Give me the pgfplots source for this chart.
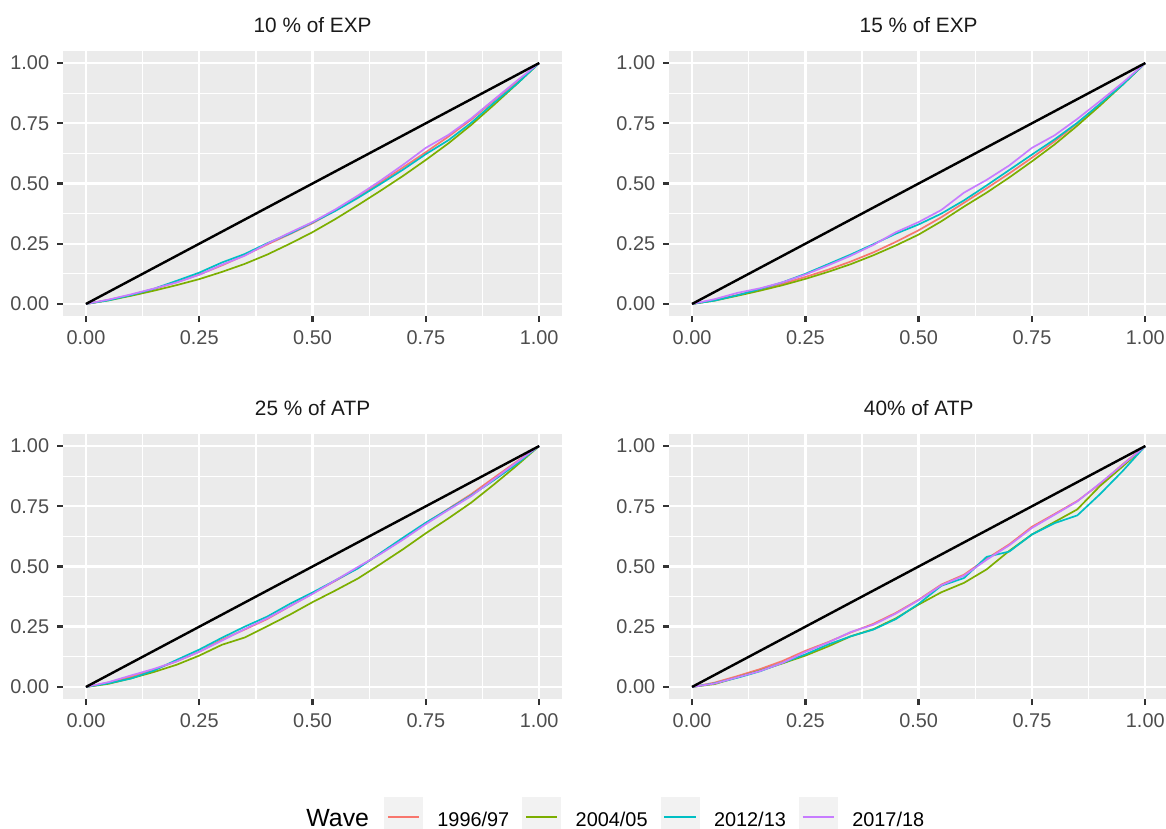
\documentclass[border=0pt]{standalone}
\usepackage{fontspec}
\setmainfont{Liberation Sans}
\usepackage{pgfplots}
\usepackage{pgfplotstable}
\pgfplotsset{compat=1.18}
\definecolor{panelbg}{HTML}{EBEBEB}
\definecolor{keybg}{HTML}{F2F2F2}
\definecolor{gtick}{HTML}{333333}
\definecolor{glabel}{HTML}{4D4D4D}
\definecolor{gtitle}{HTML}{1A1A1A}
\definecolor{c1}{HTML}{F8766D}
\definecolor{c2}{HTML}{7CAE00}
\definecolor{c3}{HTML}{00BFC4}
\definecolor{c4}{HTML}{C77CFF}

\pgfplotstableread{
x    r      g      c      p
0    0      0      0      0
0.05 0.017  0.015  0.015  0.018
0.10 0.038  0.034  0.037  0.040
0.15 0.062  0.055  0.063  0.064
0.20 0.090  0.078  0.096  0.089
0.25 0.122  0.103  0.130  0.121
0.30 0.160  0.133  0.172  0.163
0.35 0.202  0.166  0.207  0.200
0.40 0.247  0.205  0.252  0.250
0.45 0.290  0.250  0.292  0.296
0.50 0.335  0.298  0.338  0.340
0.55 0.388  0.352  0.386  0.392
0.60 0.446  0.410  0.440  0.450
0.65 0.505  0.470  0.498  0.512
0.70 0.567  0.532  0.558  0.578
0.75 0.630  0.598  0.622  0.648
0.80 0.695  0.667  0.680  0.702
0.85 0.765  0.743  0.752  0.770
0.90 0.845  0.826  0.835  0.848
0.95 0.920  0.912  0.912  0.925
1    1      1      1      1
}\tA

\pgfplotstableread{
x    r      g      c      p
0    0      0      0      0
0.05 0.016  0.014  0.014  0.020
0.10 0.037  0.034  0.036  0.046
0.15 0.060  0.055  0.062  0.065
0.20 0.084  0.078  0.090  0.090
0.25 0.112  0.104  0.125  0.122
0.30 0.142  0.133  0.165  0.160
0.35 0.176  0.165  0.205  0.200
0.40 0.214  0.202  0.248  0.245
0.45 0.258  0.243  0.292  0.298
0.50 0.306  0.288  0.330  0.340
0.55 0.360  0.343  0.375  0.390
0.60 0.420  0.404  0.430  0.462
0.65 0.480  0.462  0.492  0.515
0.70 0.542  0.525  0.556  0.575
0.75 0.607  0.592  0.620  0.648
0.80 0.675  0.662  0.683  0.700
0.85 0.750  0.740  0.752  0.768
0.90 0.830  0.823  0.830  0.842
0.95 0.913  0.910  0.910  0.918
1    1      1      1      1
}\tB

\pgfplotstableread{
x    r      g      c      p
0    0      0      0      0
0.05 0.018  0.013  0.015  0.020
0.10 0.042  0.036  0.035  0.048
0.15 0.072  0.062  0.068  0.075
0.20 0.106  0.092  0.112  0.106
0.25 0.146  0.130  0.155  0.146
0.30 0.196  0.175  0.204  0.192
0.35 0.238  0.205  0.250  0.240
0.40 0.282  0.252  0.292  0.285
0.45 0.335  0.300  0.345  0.335
0.50 0.388  0.352  0.392  0.386
0.55 0.440  0.400  0.442  0.442
0.60 0.494  0.450  0.492  0.498
0.65 0.555  0.510  0.556  0.552
0.70 0.615  0.572  0.620  0.612
0.75 0.680  0.638  0.682  0.676
0.80 0.740  0.700  0.738  0.735
0.85 0.800  0.765  0.795  0.792
0.90 0.868  0.840  0.858  0.862
0.95 0.935  0.918  0.925  0.932
1    1      1      1      1
}\tC

\pgfplotstableread{
x    r      g      c      p
0    0      0      0      0
0.05 0.018  0.012  0.015  0.014
0.10 0.045  0.040  0.038  0.040
0.15 0.074  0.068  0.065  0.066
0.20 0.108  0.098  0.100  0.100
0.25 0.150  0.130  0.135  0.145
0.30 0.186  0.168  0.176  0.184
0.35 0.226  0.210  0.210  0.228
0.40 0.262  0.240  0.238  0.258
0.45 0.308  0.285  0.282  0.305
0.50 0.362  0.342  0.345  0.360
0.55 0.425  0.393  0.420  0.422
0.60 0.466  0.432  0.452  0.462
0.65 0.532  0.488  0.540  0.528
0.70 0.592  0.565  0.562  0.588
0.75 0.665  0.633  0.633  0.660
0.80 0.718  0.685  0.680  0.715
0.85 0.772  0.737  0.712  0.770
0.90 0.842  0.834  0.800  0.845
0.95 0.924  0.915  0.896  0.922
1    1      1      1      1
}\tD

\pgfplotsset{
  panel/.style={
    scale only axis, width=220.6pt, height=117.26pt,
    anchor=south west,
    xmin=-0.05, xmax=1.05, ymin=-0.05, ymax=1.05,
    axis background/.style={fill=panelbg},
    axis line style={draw opacity=0},
    grid=both,
    major grid style={white, line width=1.07pt, draw opacity=1},
    minor grid style={white, line width=0.53pt, draw opacity=1},
    xtick={0,0.25,0.5,0.75,1}, ytick={0,0.25,0.5,0.75,1},
    minor xtick={0.125,0.375,0.625,0.875},
    minor ytick={0.125,0.375,0.625,0.875},
    tick align=outside, tick pos=left,
    major tick length=2.75pt, minor tick length=0pt,
    major tick style={draw=gtick, draw opacity=1, line width=1.07pt},
    ticklabel style={font=\fontsize{8.8}{10}\selectfont, text=glabel},
    /pgf/number format/fixed, /pgf/number format/fixed zerofill,
    /pgf/number format/precision=2, /pgf/number format/assume math mode=true,
    title style={at={(0.5,1)}, anchor=center, yshift=5.6pt,
      font=\fontsize{9.2}{11}\selectfont, text=gtitle},
  },
  wave/.style={line width=0.75pt},
}

\begin{document}
\begin{tikzpicture}
\useasboundingbox (0,0) rectangle (515.96pt,366.83pt);

\begin{axis}[panel, at={(28.01pt,227.0pt)}, title={10 \% of EXP}]
\addplot[wave, c1] table[x=x,y=r]{\tA};
\addplot[wave, c2] table[x=x,y=g]{\tA};
\addplot[wave, c3] table[x=x,y=c]{\tA};
\addplot[wave, c4] table[x=x,y=p]{\tA};
\addplot[black, line width=1.07pt] coordinates {(0,0) (1,1)};
\end{axis}

\begin{axis}[panel, at={(296.21pt,227.0pt)}, title={15 \% of EXP}]
\addplot[wave, c1] table[x=x,y=r]{\tB};
\addplot[wave, c2] table[x=x,y=g]{\tB};
\addplot[wave, c3] table[x=x,y=c]{\tB};
\addplot[wave, c4] table[x=x,y=p]{\tB};
\addplot[black, line width=1.07pt] coordinates {(0,0) (1,1)};
\end{axis}

\begin{axis}[panel, at={(28.01pt,57.53pt)}, title={25 \% of ATP}]
\addplot[wave, c1] table[x=x,y=r]{\tC};
\addplot[wave, c2] table[x=x,y=g]{\tC};
\addplot[wave, c3] table[x=x,y=c]{\tC};
\addplot[wave, c4] table[x=x,y=p]{\tC};
\addplot[black, line width=1.07pt] coordinates {(0,0) (1,1)};
\end{axis}

\begin{axis}[panel, at={(296.21pt,57.53pt)}, title={40\% of ATP}]
\addplot[wave, c1] table[x=x,y=r]{\tD};
\addplot[wave, c2] table[x=x,y=g]{\tD};
\addplot[wave, c3] table[x=x,y=c]{\tD};
\addplot[wave, c4] table[x=x,y=p]{\tD};
\addplot[black, line width=1.07pt] coordinates {(0,0) (1,1)};
\end{axis}

% legend
\node[anchor=base west, inner sep=0pt, font=\fontsize{11}{13}\selectfont] at (135.4pt,1.0pt) {Wave};
\foreach \i/\col/\lab in {0/c1/1996\slash 97, 1/c2/2004\slash 05, 2/c3/2012\slash 13, 3/c4/2017\slash 18} {
  \pgfmathsetmacro{\bx}{169.9+61.2*\i}
  \pgfmathsetmacro{\bxr}{\bx+17.28}
  \pgfmathsetmacro{\lx}{\bx+1.7}
  \pgfmathsetmacro{\lxr}{\bx+15.58}
  \pgfmathsetmacro{\tx}{\bx+23.45}
  \fill[keybg] (\bx pt,-3.34pt) rectangle (\bxr pt,13.94pt);
  \draw[\col, line width=0.75pt] (\lx pt,5.3pt) -- (\lxr pt,5.3pt);
  \node[anchor=base west, inner sep=0pt, font=\fontsize{8.8}{10}\selectfont, text=black] at (\tx pt,1.2pt) {\lab};
}
\end{tikzpicture}
\end{document}
